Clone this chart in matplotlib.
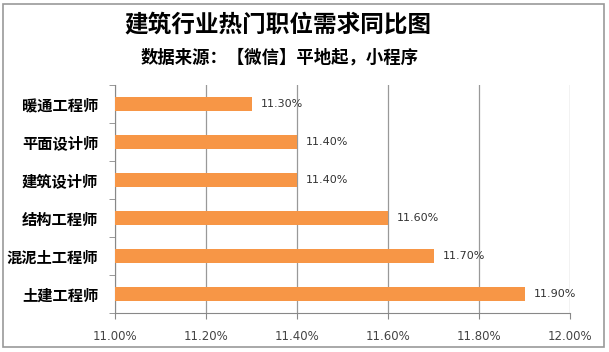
import matplotlib
import matplotlib.pyplot as plt
from matplotlib.patches import Rectangle

matplotlib.use("Agg")

plt.rcParams["font.family"] = ["Noto Sans CJK SC", "DejaVu Sans"]

# data, top to bottom as in the picture
jobs = ["暖通工程师", "平面设计师", "建筑设计师", "结构工程师", "混泥土工程师", "土建工程师"]
values = [11.30, 11.40, 11.40, 11.60, 11.70, 11.90]
xticks = [11.0, 11.2, 11.4, 11.6, 11.8, 12.0]
xticklabels = ["11.00%", "11.20%", "11.40%", "11.60%", "11.80%", "12.00%"]

fig = plt.figure(figsize=(6.09, 3.52), dpi=100)
ax = fig.add_axes([115 / 609, 1 - 313 / 352, 455 / 609, 228 / 352])

ypos = list(range(len(jobs)))[::-1]
ax.barh(ypos, values, height=0.38, color="#F79646", zorder=3)
for y, v in zip(ypos, values):
    ax.text(v + 0.02, y, "%.2f%%" % v, va="center", ha="left",
            fontsize=8, color="#333333", family=["DejaVu Sans"])

ax.set_xlim(11.0, 12.0)
ax.set_ylim(-0.5, len(jobs) - 0.5)
ax.set_xticks(xticks)
ax.set_xticklabels(xticklabels, fontsize=8.5, color="#444444", family=["DejaVu Sans"])
ax.set_yticks(ypos)
ax.set_yticklabels(jobs, fontsize=11, fontweight="bold")
ax.tick_params(axis="y", length=0, pad=12)
ax.set_yticks([i - 0.5 for i in range(len(jobs) + 1)], minor=True)
ax.tick_params(axis="y", which="minor", length=4, color="#888888", direction="out")
ax.tick_params(axis="x", length=4, color="#888888", pad=8)
ax.grid(axis="x", color="#999999", linewidth=0.9, zorder=0)
for s in ["top", "right"]:
    ax.spines[s].set_visible(False)
for s in ["left", "bottom"]:
    ax.spines[s].set_color("#888888")

fig.text(278 / 609, 1 - 25 / 352, "建筑行业热门职位需求同比图", ha="center", va="center",
         fontsize=17, fontweight="bold")
fig.text(280 / 609, 1 - 58 / 352, "数据来源：【微信】平地起，小程序", ha="center", va="center",
         fontsize=12.5, fontweight="bold")

fig.patches.append(Rectangle((3 / 609, 5 / 352), 601 / 609, 343 / 352, transform=fig.transFigure,
                             fill=False, edgecolor="#999999", linewidth=1.2))

fig.savefig("out.png", dpi=100)
